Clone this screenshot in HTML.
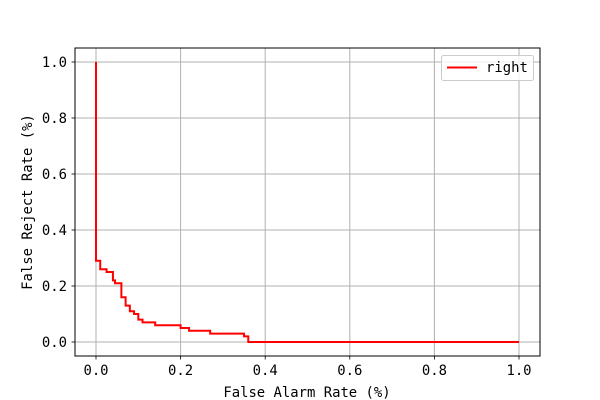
<!DOCTYPE html>
<html><head><meta charset="utf-8"><style>
body{margin:0;background:#fff;}
svg{display:block;font-family:"DejaVu Sans Mono","Liberation Mono",monospace;}
</style></head><body>
<svg id="chart" width="600" height="400">
<rect width="600" height="400" fill="#fff"/>
<g id="grid"></g>
<g id="ticks"></g>
<path id="curve" fill="none" stroke="#ff0000" stroke-width="2"/>
<rect x="75" y="48" width="465" height="308" fill="none" stroke="#000" stroke-width="1"/>
<text x="307" y="397" font-size="13.9" text-anchor="middle">False Alarm Rate (%)</text>
<text transform="translate(32,202) rotate(-90)" font-size="13.9" text-anchor="middle">False Reject Rate (%)</text>
<g>
<rect x="441.5" y="55.5" width="92" height="25" rx="2" fill="#fff" fill-opacity="0.8" stroke="#ccc"/>
<line x1="447" y1="67.5" x2="477" y2="67.5" stroke="#ff0000" stroke-width="2"/>
<text x="486" y="72" font-size="13.9">right</text>
</g>
</svg>
<script>
const farValues = [0, 0, 0.01, 0.025, 0.04, 0.045, 0.06, 0.07, 0.08, 0.09, 0.10, 0.11, 0.14, 0.20, 0.22, 0.27, 0.35, 0.36, 1.0];
const frrValues = [1.0, 0.29, 0.26, 0.25, 0.22, 0.21, 0.16, 0.13, 0.11, 0.10, 0.08, 0.07, 0.06, 0.05, 0.04, 0.03, 0.02, 0, 0];
const xTicks = [0, 0.2, 0.4, 0.6, 0.8, 1.0];
const yTicks = [0, 0.2, 0.4, 0.6, 0.8, 1.0];
const xTickLabels = ["0.0","0.2","0.4","0.6","0.8","1.0"];
const yTickLabels = ["0.0","0.2","0.4","0.6","0.8","1.0"];

const NS = "http://www.w3.org/2000/svg";
function xs(v){return 96 + v*423;}
function ys(v){return 342 - v*280;}
function mk(tag, attrs, parent){
  const e = document.createElementNS(NS, tag);
  for (const k in attrs) e.setAttribute(k, attrs[k]);
  parent.appendChild(e); return e;
}
const grid = document.getElementById('grid');
const ticks = document.getElementById('ticks');
xTicks.forEach((t,i)=>{
  const x = xs(t);
  const g = mk('line',{x1:x,y1:48,x2:x,y2:356,stroke:'#b0b0b0','stroke-width':1},grid);
  
  
  mk('line',{x1:x,y1:356,x2:x,y2:359.5,stroke:'#000','stroke-width':0.8},ticks);
  const tx = mk('text',{x:x,y:375,'font-size':13.9,'text-anchor':'middle'},ticks);
  tx.textContent = xTickLabels[i];
  
  
});
yTicks.forEach((t,i)=>{
  const y = ys(t);
  const g = mk('line',{x1:75,y1:y,x2:540,y2:y,stroke:'#b0b0b0','stroke-width':1},grid);
  
  
  mk('line',{x1:71.5,y1:y,x2:75,y2:y,stroke:'#000','stroke-width':0.8},ticks);
  const tx = mk('text',{x:67,y:y+4.8,'font-size':13.9,'text-anchor':'end'},ticks);
  tx.textContent = yTickLabels[i];
  
  
});
let d = 'M' + xs(farValues[0]) + ' ' + ys(frrValues[0]);
for (let i=1;i<farValues.length;i++){
  d += ' L' + xs(farValues[i]) + ' ' + ys(frrValues[i-1]);
  d += ' L' + xs(farValues[i]) + ' ' + ys(frrValues[i]);
}
document.getElementById('curve').setAttribute('d', d);
</script>
</body></html>
